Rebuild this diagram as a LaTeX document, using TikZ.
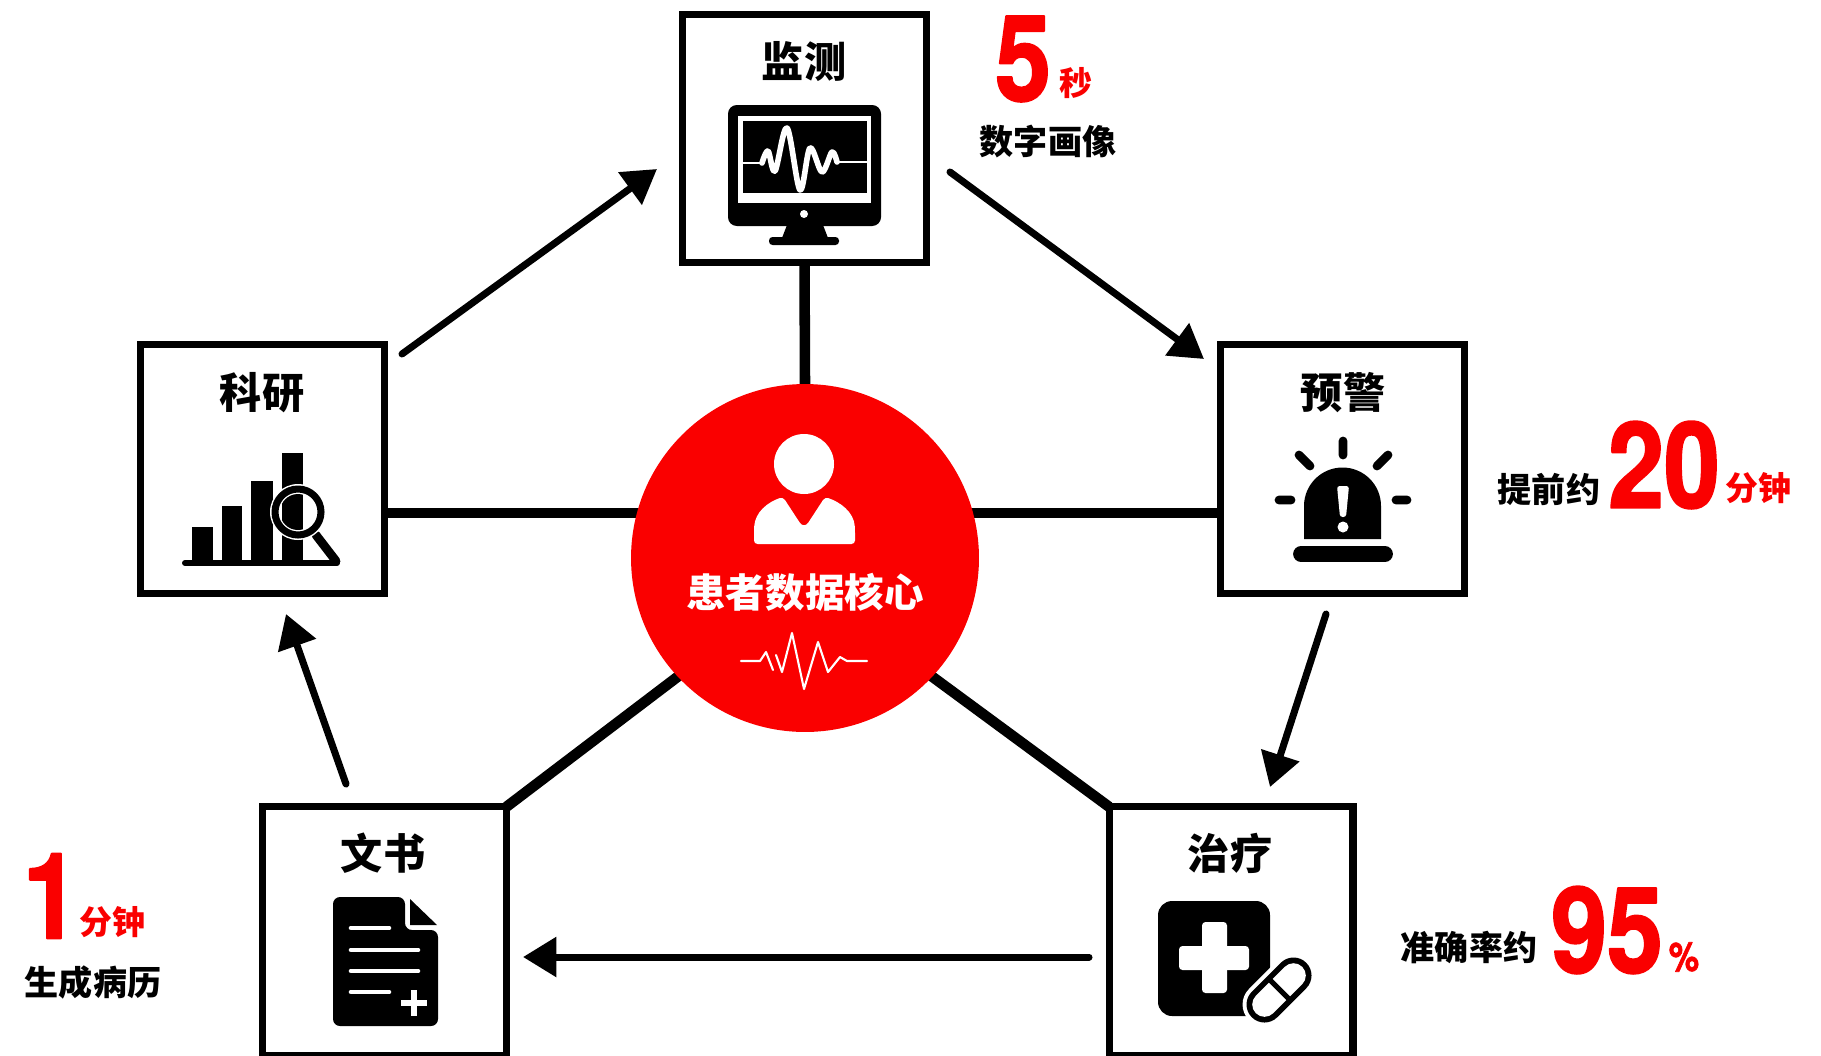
\documentclass[tikz,border=0pt]{standalone}
\usepackage{fontspec}
\usepackage{xcolor}
\usepackage{tikz}
\usetikzlibrary{arrows.meta,backgrounds}
\newfontfamily\cjk{Noto Sans CJK SC}
\newfontfamily\numfont[FakeStretch=0.84,BoldFeatures={FakeBold=1.6}]{TeX Gyre Heros}
\definecolor{corered}{RGB}{250,0,0}
\tikzset{
  panel/.style={draw=black,line width=4pt,line join=miter,minimum width=4.88cm,minimum height=4.97cm,inner sep=0pt,outer sep=0pt},
  link/.style={line width=6pt,shorten >=-5pt},
  flow/.style={line width=4pt,-{Triangle[length=19pt,width=22pt]}},
  paneltitle/.style={font=\cjk\bfseries\fontsize{24}{24}\selectfont,text=black,inner sep=0pt},
  capt/.style={font=\cjk\bfseries\fontsize{19.4}{20}\selectfont,text=black,inner sep=0pt},
  bignum/.style={font=\numfont\bfseries\fontsize{68}{68}\selectfont,text=corered,inner sep=0pt},
  unit/.style={font=\cjk\bfseries\fontsize{18.7}{20}\selectfont,text=corered,inner sep=0pt},
}
\begin{document}
\begin{tikzpicture}[line cap=round,line join=round,x=0.02cm,y=-0.02cm]
\useasboundingbox (0,0) rectangle (1821,1055);
% hub and the five panels
\node[circle,fill=corered,minimum size=6.96cm,inner sep=0pt,outer sep=0pt] (core) at (805,558) {};
\node[panel] (mon) at (804.5,138.5) {};
\node[panel] (sci) at (262.5,469) {};
\node[panel] (warn) at (1342.5,469) {};
\node[panel] (tre) at (1231,931) {};
\node[panel] (doc) at (384.5,931) {};
% spokes
\begin{pgfonlayer}{background}
\draw[link] (mon.south) -- (core.north);
\draw[link] (sci.east |- core.165) -- (core.165);
\draw[link] (warn.west |- core.15) -- (core.15);
\draw[link] (doc.north east) -- (core.223);
\draw[link] (tre.north west) -- (core.317);
\end{pgfonlayer}
% ring of arrows
\coordinate (sciOut) at (402,354);
\coordinate (monIn) at (657,169);
\coordinate (monOut) at (950,172);
\coordinate (warnIn) at (1204,359);
\coordinate (warnOut) at (1326,614);
\coordinate (treIn) at (1270,787);
\coordinate (treOut) at (1089,957);
\coordinate (docIn) at (523,957);
\coordinate (docOut) at (346,784);
\coordinate (sciIn) at (286,614);
\draw[flow] (sciOut) -- (monIn);
\draw[flow] (monOut) -- (warnIn);
\draw[flow] (warnOut) -- (treIn);
\draw[flow] (treOut) -- (docIn);
\draw[flow] (docOut) -- (sciIn);
% panel titles
\node[paneltitle] (monT) at (804,62) {监测};
\node[paneltitle] (sciT) at (262,393) {科研};
\node[paneltitle] (warnT) at (1343,393) {预警};
\node[paneltitle] (treT) at (1230,853) {治疗};
\node[paneltitle] (docT) at (383,853) {文书};
% figures beside the panels
\node[bignum] (nFive) at (1023,59) {5};
\node[unit] (uSec) at (1076,83) {秒};
\node[capt] (cPortrait) at (1048,142) {数字画像};
\node[capt] (cEarly) at (1549,489) {提前约};
\node[bignum] (nTwenty) at (1664,465) {20};
\node[unit] (uMinA) at (1758,488) {分钟};
\node[capt] (cAcc) at (1469,947) {准确率约};
\node[bignum] (nNinety) at (1607,930) {95};
\node[font=\numfont\bfseries\fontsize{23}{23}\selectfont,text=corered,inner sep=0pt] (uPct) at (1684,957) {\%};
\node[bignum] (nOne) at (51,896) {1};
\node[unit] (uMinB) at (112,922) {分钟};
\node[capt] (cRecord) at (93,982) {生成病历};
% hub content
\node[font=\cjk\bfseries\fontsize{22.5}{24}\selectfont,text=white,inner sep=0pt] (coreT) at (805,592) {患者数据核心};
\fill[white] (804,464) circle (30);
\fill[white,rounded corners=2pt] (754,544) -- (754,530) .. controls (755,512) and (768,502) .. (783,497) -- (798,520) .. controls (802,526) and (806,526) .. (810,520) -- (825,497) .. controls (840,502) and (854,512) .. (855,530) -- (855,544) -- cycle;
\draw[white,line width=1.2pt] (741,661) -- (760,661) -- (766,652) -- (773,670) (776,655) -- (782,672) -- (792,633) -- (804,689) -- (818,642) -- (828,672) -- (840,657) -- (847,661) -- (867,661);
% monitor icon
\fill[rounded corners=5pt] (728,105) rectangle (881,226);
\fill[white] (738,116) rectangle (871,203);
\fill (743,121) rectangle (867,193);
\draw[white,line width=3.2pt] plot[smooth,tension=0.55] coordinates {(762,163) (768,151) (775,171) (787,128) (800,190) (810,148) (822,172) (832,152) (837,162)};
\draw[white,line width=1.4pt] (743,163) -- (762,163) (837,162) -- (867,162);
\fill[white] (804,214) circle (4);
\fill (787,225) -- (823,225) -- (828,238) -- (782,238) -- cycle;
\fill[rounded corners=2pt] (769,237) rectangle (839,245);
% chart icon
\fill (192,527) rectangle (213,562);
\fill (222,506) rectangle (242,562);
\fill (251,481) rectangle (273,562);
\fill (282,453) rectangle (303,562);
\draw[line width=3.4pt] (185,563) -- (337,563);
\draw[line width=5pt] (316,535) -- (336,561);
\fill[white] (298,512) circle (28);
\begin{scope}
\clip (298,512) circle (18);
\fill (282,480) rectangle (303,545);
\end{scope}
\draw[line width=4pt] (298,512) circle (23);
% alarm icon
\fill (1304,539) -- (1304,506) arc[start angle=180,end angle=360,radius=38.5] -- (1381,539) -- cycle;
\fill[white,rounded corners=1.5pt] (1337,486) -- (1349,486) -- (1346,517) -- (1340,517) -- cycle;
\fill[white] (1343,527) circle (5.5);
\draw[line width=9pt] (1301,554) -- (1385,554);
\draw[line width=5pt] (1343,441) -- (1343,455) (1299,455) -- (1310,466) (1388,455) -- (1377,466) (1279,500) -- (1291,500) (1396,500) -- (1407,500);
% cross and pill icon
\fill[rounded corners=8pt] (1158,901) rectangle (1270,1016);
\fill[white,rounded corners=2pt] (1202,922) rectangle (1227,993);
\fill[white,rounded corners=2pt] (1179,946) rectangle (1249,970);
\draw[white,line width=25pt] (1264.5,1004.5) -- (1293.5,975.5);
\draw[line width=20.5pt] (1264.5,1004.5) -- (1293.5,975.5);
\draw[white,line width=14pt] (1264.5,1004.5) -- (1293.5,975.5);
\draw[line width=3pt,line cap=butt] (1268,978) -- (1290,1000);
% document icon
\fill[rounded corners=4pt] (333,897) -- (405,897) -- (405,930) -- (438,930) -- (438,1026) -- (333,1026) -- cycle;
\fill (410,899) -- (437,925) -- (410,925) -- cycle;
\draw[white,line width=2.6pt] (351,928) -- (389,928) (351,950) -- (418,950) (351,971) -- (418,971) (351,992) -- (389,992);
\draw[white,line width=3.6pt,line cap=butt] (414,990) -- (414,1016) (401,1003) -- (427,1003);
\end{tikzpicture}
\end{document}
